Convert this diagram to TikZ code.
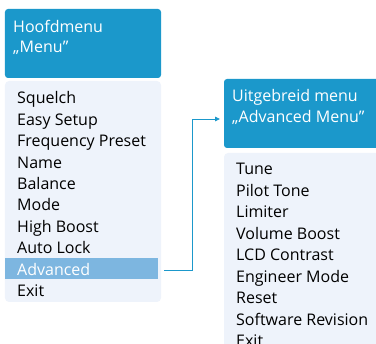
\documentclass[tikz,border=0pt]{standalone}
\usepackage{fontspec}
\setmainfont{Open Sans}
\usetikzlibrary{arrows.meta}
\definecolor{hdrblue}{HTML}{1B98CB}
\definecolor{listbg}{HTML}{EEF3FB}
\definecolor{hlblue}{HTML}{7DB6E0}
\begin{document}
\begin{tikzpicture}[x=1pt,y=1pt,
  hdr/.style={fill=hdrblue,rounded corners=3pt,draw=none},
  listbox/.style={fill=listbg,rounded corners=4pt,draw=none},
  hdrtext/.style={anchor=base west,inner sep=0pt,text=white,font=\fontsize{16}{19}\selectfont},
  item/.style={anchor=base west,inner sep=0pt,text=black,font=\fontsize{16}{19}\selectfont},
  conn/.style={draw=hdrblue,line width=0.9pt,-{Triangle[length=5pt,width=4.5pt]}}]
\useasboundingbox (0,0) rectangle (376,344);
\clip (0,0) rectangle (376,344);
% left menu
\path[hdr] (5,266) rectangle (161,335);
\path[listbox] (5,42) rectangle (161,263);
\path[fill=hlblue] (5,65) rectangle (158,86);
\node[item,text=white] (a9) at (17,68.5) {Advanced};
\node[hdrtext] (h1a) at (13,311) {Hoofdmenu};
\node[hdrtext] (h1b) at (13,291) {„Menu”};
\node[item] (a1) at (17,240) {Squelch};
\node[item] (a2) at (17,218.5) {Easy Setup};
\node[item] (a3) at (17,197) {Frequency Preset};
\node[item] (a4) at (17,175.5) {Name};
\node[item] (a5) at (17,154) {Balance};
\node[item] (a6) at (17,133) {Mode};
\node[item] (a7) at (17,111.5) {High Boost};
\node[item] (a8) at (17,90) {Auto Lock};
\node[item] (a10) at (17,47) {Exit};
% right menu
\path[hdr] (224,196) rectangle (390,265);
\path[listbox] (224,-20) rectangle (390,191);
\node[hdrtext] (h2a) at (232,242.3) {Uitgebreid menu};
\node[hdrtext] (h2b) at (232,221.7) {„Advanced Menu”};
\node[item] (b1) at (236,169) {Tune};
\node[item] (b2) at (236,147.5) {Pilot Tone};
\node[item] (b3) at (236,126) {Limiter};
\node[item] (b4) at (236,104.5) {Volume Boost};
\node[item] (b5) at (236,83) {LCD Contrast};
\node[item] (b6) at (236,61.5) {Engineer Mode};
\node[item] (b7) at (236,40) {Reset};
\node[item] (b8) at (236,18.5) {Software Revision};
\node[item] (b9) at (236,-3) {Exit};
% connector
\coordinate (cstart) at (164,74);
\coordinate (clow) at (192,74);
\coordinate (chigh) at (192,225);
\coordinate (cend) at (220,225);
\draw[conn] (cstart) -- (clow) -- (chigh) -- (cend);
\end{tikzpicture}
\end{document}
